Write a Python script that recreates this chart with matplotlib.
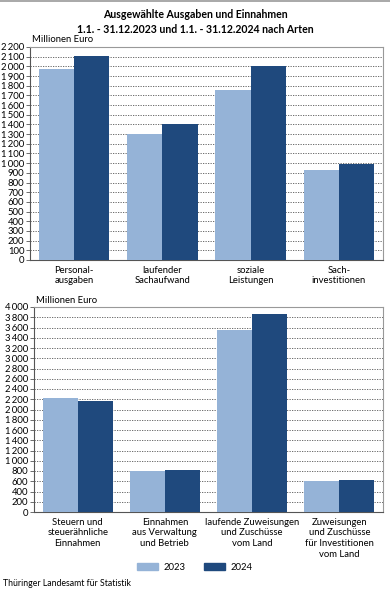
import matplotlib
matplotlib.use("Agg")
import matplotlib.pyplot as plt
import matplotlib.ticker as mticker
from matplotlib.patches import Patch
from matplotlib.lines import Line2D
import numpy as np

plt.rcParams['font.family'] = ['Lato', 'DejaVu Sans']

title = "Ausgewählte Ausgaben und Einnahmen\n1.1. - 31.12.2023 und 1.1. - 31.12.2024 nach Arten"
years = ["2023", "2024"]

cats_top = ["Personal-\nausgaben", "laufender\nSachaufwand", "soziale\nLeistungen", "Sach-\ninvestitionen"]
top_2023 = [1975, 1302, 1756, 933]
top_2024 = [2105, 1405, 2003, 992]

cats_bot = ["Steuern und\nsteuerähnliche\nEinnahmen", "Einnahmen\naus Verwaltung\nund Betrieb",
            "laufende Zuweisungen\nund Zuschüsse\nvom Land",
            "Zuweisungen\nund Zuschüsse\nfür Investitionen\nvom Land"]
bot_2023 = [2224, 792, 3544, 611]
bot_2024 = [2158, 820, 3869, 624]

c23 = "#95B3D7"
c24 = "#1F497D"

W, H = 390, 590
fig = plt.figure(figsize=(W / 100, H / 100), dpi=100)


def fmt(v, pos):
    return f"{int(v):,}".replace(",", "\u2009")


def make_axes(rect, cats, v23, v24, ymax, step):
    l, t, r, b = rect
    ax = fig.add_axes([l / W, 1 - b / H, (r - l) / W, (b - t) / H])
    x = np.arange(len(cats))
    w = 0.4
    ax.bar(x - w / 2, v23, w, color=c23, zorder=3)
    ax.bar(x + w / 2, v24, w, color=c24, zorder=3)
    ax.set_xlim(-0.5, len(cats) - 0.5)
    ax.set_ylim(0, ymax)
    ax.yaxis.set_major_locator(mticker.MultipleLocator(step))
    ax.yaxis.set_major_formatter(mticker.FuncFormatter(fmt))
    ax.yaxis.grid(True, linestyle=(0, (1.5, 1.5)), color="#555555", linewidth=0.6, zorder=0)
    ax.set_xticks(x)
    ax.set_xticklabels(cats, fontsize=6.8, linespacing=1.25)
    ax.tick_params(axis='x', length=0, pad=4)
    ax.tick_params(axis='y', labelsize=6.8, length=3, width=0.6, pad=1, color="#555555")
    for s in ax.spines.values():
        s.set_color("#999999")
        s.set_linewidth(0.8)
    ax.spines['left'].set_color("#555555")
    ax.spines['bottom'].set_color("#555555")
    ax.text(0.005, 1.012, "Millionen Euro", transform=ax.transAxes, fontsize=6.8,
            ha='left', va='bottom')
    return ax


make_axes((30, 47, 383, 260), cats_top, top_2023, top_2024, 2200, 100)
make_axes((34, 307, 383, 512), cats_bot, bot_2023, bot_2024, 4000, 200)

fig.text(0.5, 1 - 22 / H, title, ha='center', va='center', fontsize=7.6,
         fontweight='bold', linespacing=1.55)

handles = [Patch(color=c23), Patch(color=c24)]
fig.legend(handles, years, loc='center', bbox_to_anchor=(0.5, 1 - 567 / H), ncol=2,
           frameon=False, fontsize=6.8, handlelength=2.2, handleheight=0.7,
           columnspacing=2.0, handletextpad=0.6)

fig.text(3 / W, 1 - 584 / H, "Thüringer Landesamt für Statistik", fontsize=6.3,
         ha='left', va='center')

fig.add_artist(Line2D([0, 1], [1 - 0.5 / H, 1 - 0.5 / H], transform=fig.transFigure,
                      color="#999999", linewidth=1.2))

fig.savefig("out.png", dpi=100, facecolor="white")
